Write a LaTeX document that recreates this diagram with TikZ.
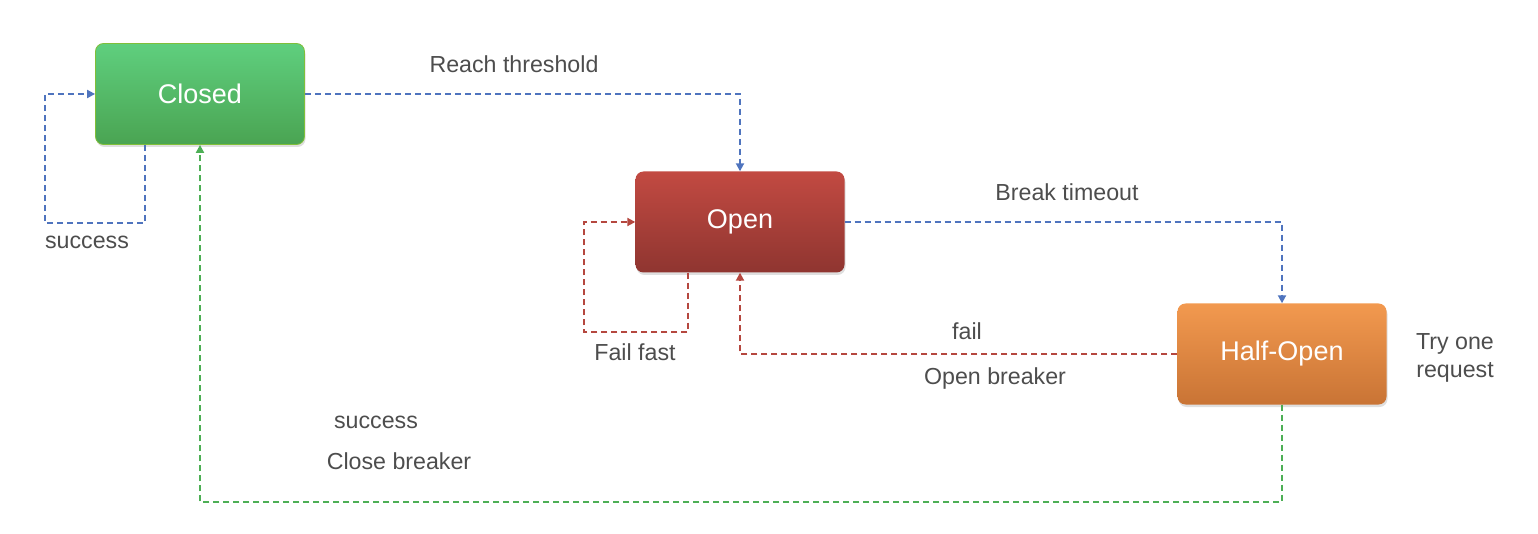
\documentclass[tikz,border=0pt]{standalone}
\usepackage{fontspec}
\setmainfont{Liberation Sans}
\usetikzlibrary{arrows.meta,shadows}
\definecolor{bluedash}{HTML}{4F74BE}
\definecolor{reddash}{HTML}{B5473F}
\definecolor{greendash}{HTML}{4DAF55}
\definecolor{labelgray}{HTML}{4D4D4D}
\definecolor{closedtop}{HTML}{5FCF7E}
\definecolor{closedbot}{HTML}{4AA452}
\definecolor{opentop}{HTML}{C24A42}
\definecolor{openbot}{HTML}{8F3530}
\definecolor{halftop}{HTML}{F2994F}
\definecolor{halfbot}{HTML}{C97435}
\begin{document}
\begin{tikzpicture}[x=1pt,y=-1pt,
  statebox/.style={rounded corners=8pt,minimum width=209pt,minimum height=101pt,
    text=white,font=\fontsize{27}{32}\selectfont,
    drop shadow={opacity=0.25,shadow xshift=1pt,shadow yshift=-2.5pt}},
  conn/.style={line width=1.9pt,dash pattern=on 6pt off 4pt,
    -{Triangle[length=8pt,width=8pt]}},
  lbl/.style={text=labelgray,font=\fontsize{23.2}{28}\selectfont,inner sep=0pt}]
\useasboundingbox (0,0) rectangle (1538,534);
\node[statebox,draw=closedbot!70!yellow,line width=0.8pt,top color=closedtop,bottom color=closedbot] (closed) at (200,94) {Closed};
\node[statebox,top color=opentop,bottom color=openbot] (open) at (740,222) {Open};
\node[statebox,top color=halftop,bottom color=halfbot] (half) at (1282,354) {Half-Open};

\coordinate (cl) at (145,223);
\coordinate (ol) at (688,332);
\coordinate (gb) at (1282,502);

\draw[conn,bluedash] (closed.south -| cl) -- (cl) -| (45,94) -- (closed.west);
\draw[conn,bluedash] (closed.east) -| (open.north);
\draw[conn,reddash] (open.south -| ol) -- (ol) -| (584,222) -- (open.west);
\draw[conn,bluedash] (open.east) -| (half.north);
\draw[conn,reddash] (half.west) -| (open.south);
\draw[conn,greendash] (half.south) -- (gb) -| (closed.south);

\node[lbl] (l1) at (87,242) {success};
\node[lbl] (l2) at (514,64) {Reach threshold};
\node[lbl] (l3) at (635,352) {Fail fast};
\node[lbl] (l4) at (1067,192) {Break timeout};
\node[lbl] (l5) at (967,331) {fail};
\node[lbl] (l6) at (995,379) {Open breaker};
\node[lbl] (l7) at (376,422) {success};
\node[lbl] (l8) at (399,461) {Close breaker};
\node[lbl,align=center] (l9) at (1455,358) {Try one\\request};
\end{tikzpicture}
\end{document}
